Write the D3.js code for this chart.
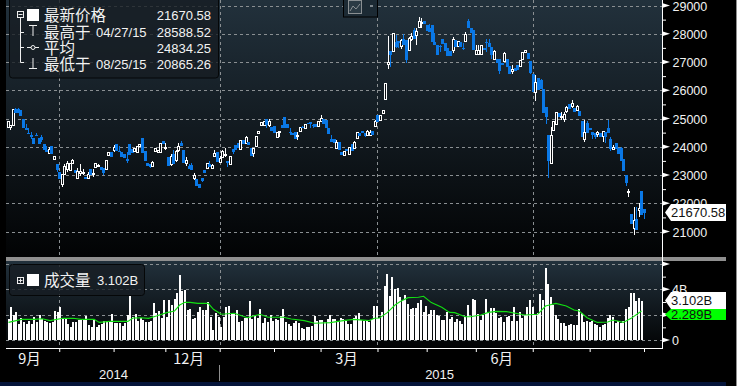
<!DOCTYPE html>
<html>
<head>
<meta charset="utf-8">
<script src="https://cdn.jsdelivr.net/npm/d3@7"></script>
<style>
  html, body { margin: 0; padding: 0; background: #000; }
  svg { display: block; }
  text { font-family: "Liberation Sans", sans-serif; fill: #f2f2f2; }
  .cjk { font-family: "Noto Sans CJK SC", sans-serif; }
</style>
</head>
<body>
<svg width="737" height="386"></svg>
<script>
// daily candles
const opens = [24680,24680,24760,25350,25340,25300,24980,24670,24500,24430,24310,24430,24310,24350,24080,23870,23750,24040,23560,23390,23120,22680,23010,23180,23150,23420,23190,22860,23060,23060,22920,22880,23230,23010,23270,23310,23300,23240,23180,23680,23830,23870,24110,23850,23820,23730,23570,24080,23930,23830,23810,24020,24300,23850,23440,23390,23310,23830,23810,23810,24200,23970,23650,23370,23750,23510,23870,24130,23890,23390,23320,23350,22860,22860,22680,22880,23180,23240,23390,23240,23670,23830,23450,23630,23680,23510,23360,23920,24050,24130,23890,24250,24110,24180,23970,23760,24020,24470,24760,24760,25000,24760,24700,24750,24330,24500,24760,25040,24820,24530,24500,24530,24350,24530,24700,24630,24850,24880,24760,24820,24700,24880,25000,24960,24680,24260,24260,23940,24160,23820,23680,23910,23740,24090,23930,24300,24470,24550,24490,24390,24410,24550,24700,25120,24920,25190,25680,26910,27380,27360,27710,27750,27560,27800,27770,27400,27800,28130,27950,28220,28380,28450,28300,28220,28300,27710,27600,27570,27830,27680,27500,27380,27420,27770,27560,27710,27510,27710,28450,28190,28150,27270,27270,27270,27500,27710,27660,27540,27090,27090,27090,26950,27010,27090,26850,26650,26770,26890,26830,27090,27320,27320,27030,26570,25920,26450,26380,26030,25410,24410,23410,24590,24770,25200,25020,24960,25240,25530,25410,25380,25270,25270,24920,24270,24850,24650,24530,24470,24440,24500,24350,24530,24680,24270,23910,24120,23940,23960,23550,23000,22370,21620,21110,21460,21730,22430,21780];
const closes = [24880,24760,25320,25200,25200,25100,24670,24580,24460,24350,24100,24370,24110,24250,23900,23810,23890,23730,23650,23190,22860,23010,23300,23390,23390,23510,23060,23120,23130,23100,22850,23010,23010,23070,23420,23330,23180,23060,23510,23800,23650,23970,23850,23810,23650,23610,23510,23710,23770,23950,24010,24070,23770,23490,23330,23270,23440,23930,23870,24130,24110,23980,23330,23650,23390,23830,24010,24010,23440,23510,23220,23180,22980,22620,22540,22800,23080,23390,23300,23330,23770,23450,23570,23830,23720,23440,23650,23820,23870,23970,24230,24110,24320,24050,23690,23940,24350,24550,24850,24880,24760,24880,24560,24470,24490,24550,24670,24670,24670,24470,24430,24280,24410,24680,24660,24790,24810,24810,24730,24700,24900,25000,24820,24650,24450,24170,24120,24140,23880,23700,23840,23850,23960,23850,24140,24490,24390,24470,24390,24530,24520,24430,24880,24880,25090,25270,26240,26970,27240,28010,27540,27660,27750,27600,27070,27830,27890,27800,28070,28450,28400,28340,28090,28070,27710,27600,27240,27550,27650,27400,27220,27220,27800,27540,27710,27540,27470,27990,28210,28040,27420,27420,27420,27600,27420,27680,27540,27240,27360,26970,26680,26890,27300,26830,26560,26750,26680,26710,27060,27320,27420,27100,26620,25940,26260,26000,26060,25200,25040,23500,24410,24890,25200,25040,25060,25150,25390,25350,25530,25240,25410,25090,24330,24510,24470,24590,24410,24350,24510,24350,24530,24350,24470,23910,23980,23920,23760,23500,23150,22700,22430,21260,21400,21050,21820,21580,21670];
// null = no wick on that side
const highs = [
  24890,null,25330,25360,25360,25310,null,24800,24680,24520,
  null,24470,null,24400,null,24010,23990,null,null,null,
  null,23050,23390,23480,null,23570,null,23250,23390,23220,
  null,23120,null,23210,null,23400,null,null,null,null,
  null,24050,null,24010,null,null,23810,null,null,null,
  null,null,null,null,null,null,23510,null,null,null,
  null,24120,null,23750,23870,23890,24140,24190,null,23630,
  23390,23440,23060,null,null,null,null,null,23480,23390,
  23870,null,23690,23870,23960,null,null,null,null,null,
  null,null,24370,null,null,null,null,null,24870,null,
  null,24980,null,null,null,24560,null,null,null,24650,
  null,null,24530,null,24720,null,null,null,24820,null,
  null,25120,null,null,null,24410,null,24230,null,null,
  null,null,null,null,24200,null,null,null,null,24610,
  24610,null,24940,null,null,25290,null,27910,27400,null,
  27950,null,27830,27990,null,27890,28010,28190,28190,28580,
  28540,null,null,28340,null,28040,null,27600,null,null,
  null,null,27890,null,null,null,27660,28060,28520,null,
  null,27600,27600,null,null,27810,27830,null,27420,null,
  null,null,27360,null,null,26890,null,null,null,null,
  null,null,null,null,26530,null,26410,null,null,null,
  24710,null,null,null,25240,25240,25450,null,25650,null,
  25470,null,null,24940,24900,null,null,null,24570,null,
  null,null,24950,24350,24060,null,null,24000,null,null,
  22500,null,21850,21850,22020,null,null];
const lows = [
  null,24580,null,null,null,null,null,null,null,24290,
  null,null,null,24170,null,null,null,null,null,23100,
  null,22560,null,23120,null,null,null,null,22980,23010,
  null,null,null,22940,null,23280,null,23010,null,null,
  null,23810,null,null,null,null,23420,null,null,null,
  null,null,null,null,null,23240,null,null,null,null,
  null,23870,null,23310,null,23450,23810,null,null,23310,
  null,null,22830,null,null,22740,null,null,null,null,
  null,null,null,null,23650,23300,null,23750,null,null,
  null,null,null,null,null,23620,null,null,24740,null,
  24670,24700,null,null,null,24350,null,null,null,24410,
  24400,null,24230,null,null,null,null,24670,24670,null,
  null,null,null,null,null,null,null,null,null,null,
  null,null,null,null,null,null,null,null,24330,null,
  null,null,null,null,null,25150,25650,26750,26830,null,
  27480,27480,27460,null,26970,null,27760,null,27600,null,
  28220,null,null,null,null,null,null,27360,null,null,
  null,null,27310,null,null,null,27420,null,null,null,
  null,null,null,null,null,27360,null,27120,null,null,
  26590,null,null,null,null,26590,null,null,null,null,
  null,null,26570,null,25630,null,null,null,24800,22880,
  23380,null,null,null,24960,24880,25180,null,25380,null,
  null,null,null,24180,null,null,24290,24260,24350,null,
  24180,24140,null,23860,23870,null,null,null,null,22620,
  22210,null,20870,null,21520,null,21430];
const volumes = [1.63,2.63,1.97,2.21,1.26,1.71,1.45,1.26,1.5,1.26,1.82,1.45,1.97,1.66,1.47,1.45,1.37,1.42,2.29,2.21,2.63,1.66,1.66,1.26,1.05,1.39,1.42,1.58,1.55,1.58,1.89,1.18,1.05,1.63,1.0,1.16,1.26,1.47,1.53,1.45,2.05,1.37,1.37,1.37,1.11,1.37,1.97,3.47,1.79,2.05,1.53,1.71,1.58,1.45,1.45,1.53,2.89,2.11,2.29,1.71,3.16,1.84,3.16,2.76,3.21,3.68,5.13,3.87,3.95,2.37,2.42,1.63,1.71,2.24,2.58,2.37,2.37,2.97,1.84,0.79,2.11,1.84,1.05,1.84,2.63,2.68,2.16,2.11,2.37,1.45,
  1.5,1.74,1.74,3.08,1.66,1.89,1.71,2.42,1.37,1.71,1.45,2.0,1.53,1.66,1.58,1.92,2.42,1.45,1.26,1.11,1.32,1.5,1.37,0.92,0.87,1.0,1.03,1.11,1.89,1.53,1.58,1.58,1.45,1.63,1.97,1.66,1.66,1.53,1.71,1.63,1.5,1.26,1.26,1.71,1.89,2.13,1.58,1.53,1.53,1.45,1.63,2.68,2.71,1.71,2.21,4.26,5.21,3.47,4.95,4.0,4.11,3.42,3.16,3.55,2.84,2.42,2.5,2.53,2.89,3.16,2.21,2.68,2.05,2.37,2.37,1.97,1.89,1.58,1.58,2.21,1.63,1.84,1.39,1.63,1.5,1.26,1.84,2.76,1.92,3.21,3.16,2.03,1.58,1.97,3.21,2.24,
  2.5,2.5,2.11,1.76,1.79,1.42,1.82,1.89,1.53,2.61,1.53,2.18,1.71,1.97,2.61,3.13,2.63,1.97,2.11,3.63,3.16,5.66,4.42,3.37,2.76,1.97,1.63,1.37,1.37,1.11,1.21,1.26,1.18,1.18,2.45,2.16,1.45,1.53,1.45,1.53,1.26,1.21,1.0,1.18,1.26,1.71,1.97,1.79,1.32,1.53,1.32,1.53,2.42,2.58,3.71,3.71,3.11,3.32,3.10];
// green volume average line: bar index and value
const avgIndex = [0,5,10,13,16,21,25,28,33,35,39,46,48,51,54,57,61,64,66,68,70,73,77,79,82,87,91,92,97,100,106,109,114,118,124,129,133,139,141,143,146,149,151,154,158,160,163,167,170,172,176,178,182,185,188,192,199,204,207,211,215,218,220,223,227,231,233,237,240,244];
const avgVolume = [1.39,1.63,1.63,1.68,1.53,1.71,1.71,1.63,1.63,1.39,1.47,1.47,1.74,1.76,1.71,1.89,2.16,2.29,2.76,2.97,2.97,2.89,2.89,2.42,2.03,2.11,1.84,1.76,2.03,1.79,1.79,1.66,1.53,1.32,1.37,1.53,1.63,1.53,1.71,1.74,2.16,2.76,3.03,3.34,3.37,3.45,2.95,2.58,2.18,2.16,1.84,1.84,1.97,2.18,2.26,2.24,1.97,2.03,2.68,2.89,2.68,2.37,2.29,1.76,1.39,1.42,1.58,1.39,1.71,2.29];

const priceTicks = [21000,22000,23000,24000,25000,26000,27000,28000,29000];
const priceMinor = [21500,22500,23500,24500,25500,26500,27500,28500];
const volumeTicks = [0,2,4,6];
const volumeMinor = [1,3,5];
const monthTicks = [20,41,61,82,103,121,143,162,181,203,225,246];
const quarterTicks = [20,82,143,203];
const monthLabels = ["9月","12月","3月","6月"];
const monthLabelAt = [8.5,70,131,191];
const yearLabels = ["2014","2015"];
const yearLabelAt = [41,167];
const legendRows = [["最新价格","","21670.58"],["最高于","04/27/15","28588.52"],["平均","","24834.25"],["最低于","08/25/15","20865.26"]];

// quick check while reading values off the picture
if (opens.length !== closes.length || opens.length !== highs.length || opens.length !== lows.length) {
  throw new Error("lengths " + [opens.length, closes.length, highs.length, lows.length].join());
}

const svg = d3.select("svg");
const left = 6, right = 662, priceBottom = 257, volTop = 261, volBottom = 348;

const x = d3.scaleLinear().domain([0, opens.length - 1]).range([7.5, 644]);
const xVol = d3.scaleLinear().domain([0, volumes.length - 1]).range([8.5, 641.5]);
const y = d3.scaleLinear().domain([21000, 29000]).range([231.5, 5.5]);
const yVol = d3.scaleLinear().domain([0, 4]).range([340, 289.3]);

// backgrounds
const defs = svg.append("defs");
const grad = defs.append("linearGradient").attr("id", "panel").attr("x2", 0).attr("y2", 1);
grad.append("stop").attr("offset", 0).attr("stop-color", "#22313c");
grad.append("stop").attr("offset", 1).attr("stop-color", "#020304");
svg.append("rect").attr("width", 737).attr("height", 386).attr("fill", "#000");
svg.append("rect").attr("x", left).attr("y", 0).attr("width", right - left).attr("height", priceBottom).attr("fill", "url(#panel)");
svg.append("rect").attr("x", left).attr("y", volTop).attr("width", right - left).attr("height", volBottom - volTop).attr("fill", "url(#panel)");
svg.append("rect").attr("x", 0).attr("y", 382).attr("width", 726).attr("height", 4).attr("fill", "#04143a");
svg.append("rect").attr("x", 736).attr("y", 0).attr("width", 1).attr("height", 386).attr("fill", "#8f8f8f");

// grid
const grid = svg.append("g").attr("stroke", "#8a8f92").attr("stroke-dasharray", "3,3").attr("shape-rendering", "crispEdges");
grid.selectAll(".gp").data(priceTicks).enter().append("line")
  .attr("x1", left).attr("x2", right).attr("y1", d => Math.round(y(d)) + 0.5).attr("y2", d => Math.round(y(d)) + 0.5);
grid.selectAll(".gv").data(volumeTicks).enter().append("line")
  .attr("x1", left).attr("x2", right).attr("y1", d => Math.round(yVol(d)) + 0.5).attr("y2", d => Math.round(yVol(d)) + 0.5);
grid.selectAll(".gq").data(quarterTicks).enter().append("line")
  .attr("x1", d => Math.round(x(d)) + 0.5).attr("x2", d => Math.round(x(d)) + 0.5).attr("y1", 0).attr("y2", volBottom);

// candles
const idx = d3.range(opens.length);
const isUp = i => closes[i] >= opens[i];
const candles = svg.append("g").attr("shape-rendering", "crispEdges");
candles.selectAll(".wick").data(idx).enter().append("line")
  .attr("x1", i => Math.round(x(i)) + 0.5).attr("x2", i => Math.round(x(i)) + 0.5)
  .attr("y1", i => y(highs[i] ?? Math.max(opens[i], closes[i])))
  .attr("y2", i => y(lows[i] ?? Math.min(opens[i], closes[i])))
  .attr("stroke", i => isUp(i) ? "#fff" : "#0a78e6");
candles.selectAll(".body").data(idx).enter().append("rect")
  .attr("x", i => isUp(i) ? Math.round(x(i)) - 0.5 : Math.round(x(i)) - 1)
  .attr("width", i => isUp(i) ? 2 : 3)
  .attr("y", i => y(Math.max(opens[i], closes[i])))
  .attr("height", i => Math.max(1, Math.abs(y(opens[i]) - y(closes[i]))))
  .attr("fill", i => isUp(i) ? "#0b0f13" : "#0a78e6")
  .attr("stroke", i => isUp(i) ? "#fff" : "none");

// volume
svg.append("g").attr("shape-rendering", "crispEdges").selectAll("rect").data(volumes).enter().append("rect")
  .attr("x", (d, i) => xVol(i) - 1)
  .attr("width", 2)
  .attr("y", d => yVol(d))
  .attr("height", d => yVol(0) - yVol(d))
  .attr("fill", "#fff");
svg.append("path")
  .attr("fill", "none").attr("stroke", "#12e012").attr("stroke-width", 1.1)
  .attr("d", d3.line().x(i => xVol(avgIndex[i])).y(i => yVol(avgVolume[i]))(d3.range(avgIndex.length)));

// gray divider
svg.append("rect").attr("x", left).attr("y", 257).attr("width", 720).attr("height", 4).attr("fill", "#8f8f8f");

// axes
function triangles(values, scale) {
  svg.append("g").selectAll("path").data(values).enter().append("path")
    .attr("d", d => `M${right},${scale(d) - 2.5}L${right + 8},${scale(d)}L${right},${scale(d) + 2.5}Z`)
    .attr("fill", "#fff");
}
const priceAxis = svg.append("g").attr("transform", `translate(${right},0)`)
  .call(d3.axisRight(y).tickValues(priceMinor).tickSize(4).tickFormat(""));
const volAxis = svg.append("g").attr("transform", `translate(${right},0)`)
  .call(d3.axisRight(yVol).tickValues(volumeMinor).tickSize(4).tickFormat(""));
[priceAxis, volAxis].forEach(a => { a.select(".domain").remove(); a.selectAll("line").attr("stroke", "#fff"); });
triangles(priceTicks, y);
triangles(volumeTicks, yVol);
svg.append("line").attr("x1", right + 0.5).attr("x2", right + 0.5).attr("y1", 0).attr("y2", volBottom + 1).attr("stroke", "#fff");

svg.append("g").selectAll("text").data(priceTicks).enter().append("text")
  .attr("x", 672.5).attr("y", d => y(d) + 5).style("font-size", "12.5px").text(d => d);
svg.append("g").selectAll("text").data([0, 4]).enter().append("text")
  .attr("x", 672).attr("y", d => yVol(d) + 5).style("font-size", "12.5px").text(d => d === 0 ? "0" : d + "B");

const xAxis = svg.append("g").attr("transform", `translate(0,${volBottom})`)
  .call(d3.axisBottom(x).tickValues(monthTicks).tickSize(4).tickFormat(""));
xAxis.select(".domain").remove();
xAxis.selectAll("line").attr("stroke", "#fff");
svg.append("line").attr("x1", left).attr("x2", right).attr("y1", volBottom + 0.5).attr("y2", volBottom + 0.5).attr("stroke", "#fff");

svg.append("g").selectAll("text").data(monthLabels).enter().append("text")
  .attr("class", "cjk").attr("x", (d, i) => x(monthLabelAt[i])).attr("y", 363.5)
  .attr("text-anchor", "middle").style("font-size", "14.5px").text(d => d);
svg.append("g").selectAll("text").data(yearLabels).enter().append("text")
  .attr("x", (d, i) => x(yearLabelAt[i])).attr("y", 379)
  .attr("text-anchor", "middle").style("font-size", "13px").text(d => d);
svg.append("line").attr("x1", 219.5).attr("x2", 219.5).attr("y1", 365).attr("y2", 381).attr("stroke", "#8f8f8f");

// last value flags
function flag(top, h, fill, label, tx) {
  svg.append("path")
    .attr("d", `M665,${top + h / 2}L671,${top}H726V${top + h}H671Z`).attr("fill", fill);
  svg.append("text").attr("x", tx).attr("y", top + h / 2 + 4.5).style("font-size", "13px").style("fill", "#111").text(label);
}
flag(309, 11, "#00ff00", "2.289B", 671);
flag(292, 17, "#fff", "3.102B", 671);
flag(204, 17, "#fff", "21670.58", 671);

// chart type button
svg.append("rect").attr("x", 343.5).attr("y", -2).attr("width", 34).attr("height", 19).attr("fill", "#1c2a34").attr("stroke", "#000");
svg.append("rect").attr("x", 348.5).attr("y", 0.5).attr("width", 13).attr("height", 13).attr("fill", "#2b3a44").attr("stroke", "#8a8f92");
svg.append("path").attr("d", "M350,11L353,6L356,9L360,4").attr("fill", "none").attr("stroke", "#8a8f92");
svg.append("rect").attr("x", 370).attr("y", 5).attr("width", 3).attr("height", 2).attr("fill", "#7c858b");

// legends
const legend = svg.append("g");
legend.append("rect").attr("x", 9.5).attr("y", -4).attr("width", 209).attr("height", 82).attr("rx", 3)
  .attr("fill", "#171d23").attr("fill-opacity", 0.8).attr("stroke", "#050708");
legend.append("rect").attr("x", 9.5).attr("y", 264.5).attr("width", 135).attr("height", 31).attr("rx", 3)
  .attr("fill", "#171d23").attr("fill-opacity", 0.8).attr("stroke", "#050708");

const rowY = [15, 32, 48, 64];
legend.selectAll(".row").data(legendRows).enter().append("text")
  .attr("class", "cjk").attr("x", 44).attr("y", (d, i) => rowY[i] + 5.5).style("font-size", "15.5px").text(d => d[0]);
legend.selectAll(".date").data(legendRows).enter().append("text")
  .attr("x", 96).attr("y", (d, i) => rowY[i] + 5).style("font-size", "13px").text(d => d[1]);
legend.selectAll(".val").data(legendRows).enter().append("text")
  .attr("x", 211).attr("y", (d, i) => rowY[i] + 5).attr("text-anchor", "end").style("font-size", "13px").text(d => d[2]);

legend.append("rect").attr("x", 27).attr("y", 9).attr("width", 12).attr("height", 12).attr("fill", "#fff");
legend.append("rect").attr("x", 17.5).attr("y", 11.5).attr("width", 6).attr("height", 6).attr("fill", "none").attr("stroke", "#eee");
legend.append("line").attr("x1", 18.5).attr("x2", 22.5).attr("y1", 14.5).attr("y2", 14.5).attr("stroke", "#eee");
legend.append("path").attr("d", "M20.5,18V62.5H24M20.5,32.5H24M20.5,47.5H24").attr("fill", "none").attr("stroke", "#eee");
legend.append("path").attr("d", "M29,25.5H37M33,25V36").attr("fill", "none").attr("stroke", "#eee");
legend.append("path").attr("d", "M27,47.5H39").attr("fill", "none").attr("stroke", "#eee");
legend.append("circle").attr("cx", 33).attr("cy", 47.5).attr("r", 2).attr("fill", "#1a2128").attr("stroke", "#eee");
legend.append("path").attr("d", "M29,68.5H37M33,58V68").attr("fill", "none").attr("stroke", "#eee");

legend.append("rect").attr("x", 17.5).attr("y", 277.5).attr("width", 6).attr("height", 6).attr("fill", "none").attr("stroke", "#eee");
legend.append("path").attr("d", "M18.5,280.5H22.5M20.5,278.5V282.5").attr("stroke", "#eee");
legend.append("rect").attr("x", 27).attr("y", 274).attr("width", 12).attr("height", 12).attr("fill", "#fff");
legend.append("text").attr("class", "cjk").attr("x", 44).attr("y", 285.5).style("font-size", "15.5px").text("成交量");
legend.append("text").attr("x", 97).attr("y", 285).style("font-size", "13px").text("3.102B");
</script>
</body>
</html>
